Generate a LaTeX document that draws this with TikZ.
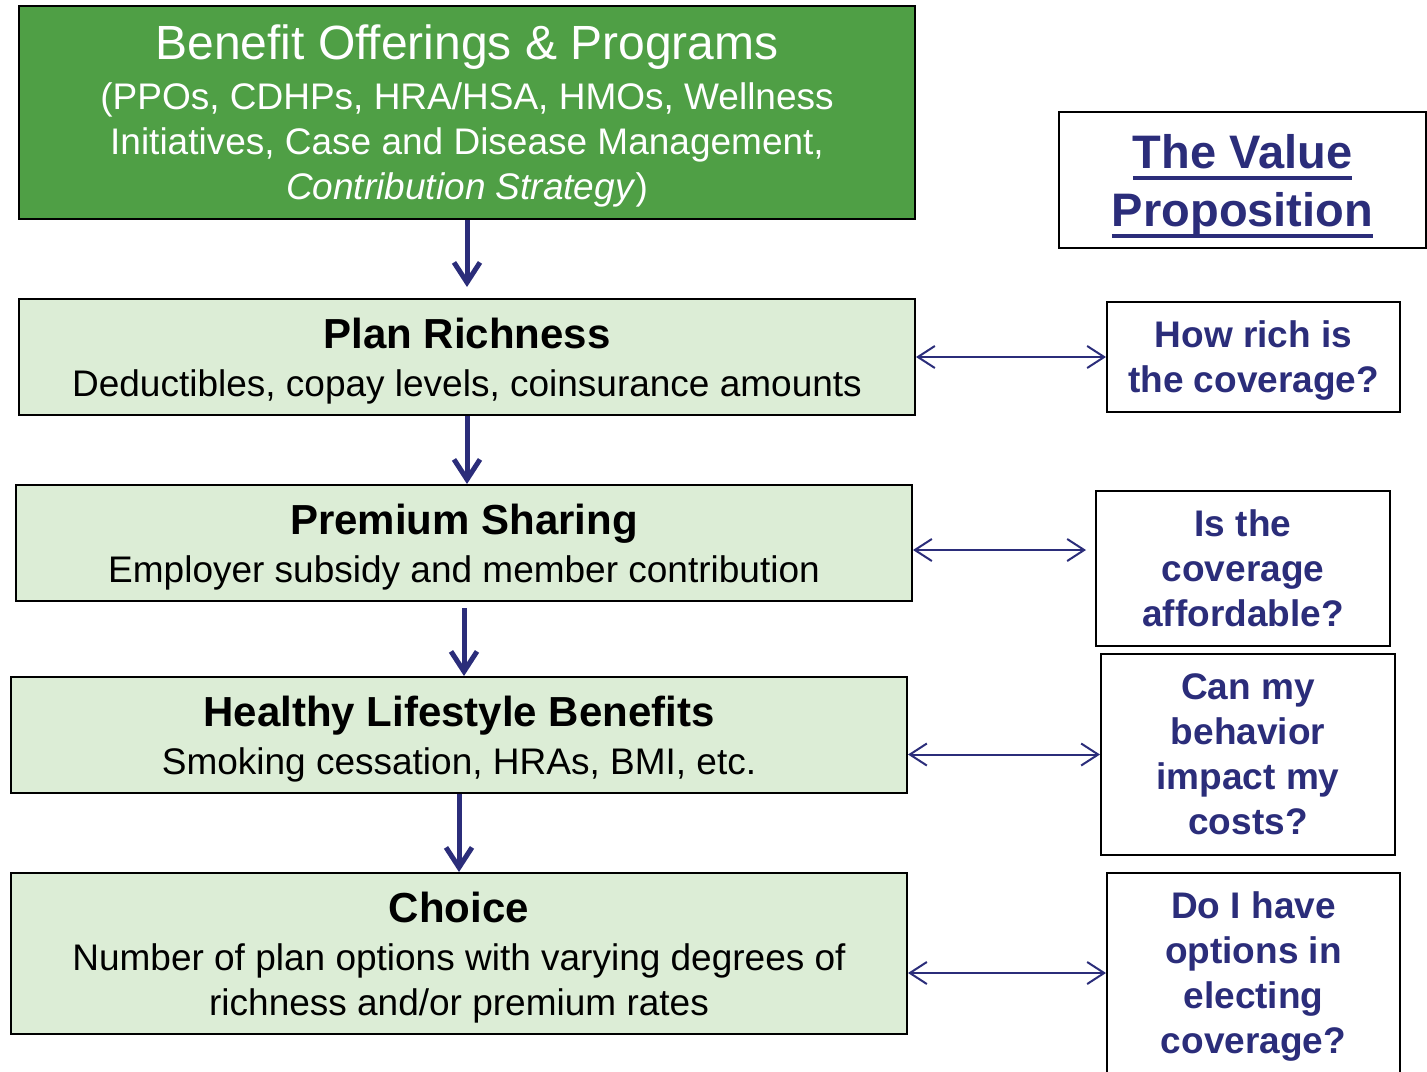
\documentclass[tikz,border=0pt]{standalone}
\usepackage{fontspec}
\setmainfont{Liberation Sans}
\usepackage{xcolor}
\usetikzlibrary{arrows.meta}

\definecolor{offergreen}{RGB}{79,159,69}
\definecolor{tiergreen}{RGB}{220,237,214}
\definecolor{asknavy}{RGB}{43,45,122}
\newcommand{\thickul}[1]{\setbox0\hbox{#1}\rlap{\rule[-12pt]{\wd0}{4pt}}\box0}
\newcommand{\tiertitle}[1]{{\fontsize{42}{48}\selectfont\bfseries #1}}
\newcommand{\nodepth}[1]{\raisebox{0pt}[\height][0pt]{#1}}

\begin{document}
\begin{tikzpicture}[x=1pt, y=-1pt]
	\useasboundingbox (0,0) rectangle (1427,1071);
	\tikzstyle{tier}=[rectangle, draw=black, line width=2pt, fill=tiergreen, minimum width=896pt, minimum height=116pt, inner sep=0pt, align=center, text=black, font=\fontsize{37}{45}\selectfont]
	\tikzstyle{ask}=[rectangle, draw=black, line width=2pt, fill=white, minimum width=293pt, inner sep=0pt, align=center, text=asknavy, font=\fontsize{37}{45}\selectfont\bfseries]
	\tikzstyle{down}=[-{Straight Barb[length=20pt, width=26pt]}, line width=5pt, draw=asknavy]
	\tikzstyle{both}=[{Straight Barb[length=17pt, width=22pt]}-{Straight Barb[length=17pt, width=22pt]}, line width=2pt, draw=asknavy]
	\node[tier, fill=offergreen, minimum height=213pt, text=white] (offer) at (467,112.5) {{\fontsize{48}{52}\selectfont Benefit Offerings \& Programs}\\[5pt]
		(PPOs, CDHPs, HRA/HSA, HMOs, Wellness\\
		Initiatives, Case and Disease Management,\\
		\nodepth{\textit{Contribution Strategy})}};
	\node[tier] (plan) at (467,357) {\tiertitle{Plan Richness}\\[3pt]
		\nodepth{Deductibles, copay levels, coinsurance amounts}};
	\node[tier] (share) at (464,543) {\tiertitle{Premium Sharing}\\[3pt]
		\nodepth{Employer subsidy and member contribution}};
	\node[tier] (health) at (459,735) {\tiertitle{Healthy Lifestyle Benefits}\\[3pt]
		\nodepth{Smoking cessation, HRAs, BMI, etc.}};
	\node[tier, minimum height=161pt] (choice) at (459,953.5) {\tiertitle{Choice}\\[3pt]
		Number of plan options with varying degrees of\\
		\nodepth{richness and/or premium rates}};
	\node[ask, minimum width=367pt, minimum height=136pt, font=\fontsize{47}{58}\selectfont\bfseries] (value) at (1242.5,180) {\thickul{The Value}\\\nodepth{\thickul{Proposition}}};
	\node[ask, minimum height=110pt] (rich) at (1253.5,357) {How rich is\\\nodepth{the coverage?}};
	\node[ask, minimum width=294pt, minimum height=155pt] (afford) at (1243,568.5) {Is the\\coverage\\affordable?};
	\node[ask, minimum width=294pt, minimum height=201pt] (behave) at (1248,754.5) {Can my\\behavior\\impact my\\costs?};
	\node[ask, minimum height=200pt] (elect) at (1253.5,973) {Do I have\\options in\\electing\\\nodepth{coverage?}};
	\coordinate (shareout) at ([yshift=-7pt]share.east);
	\path (offer) edge [down, shorten >=11pt] (plan)
	(plan.south) edge [down] (plan.south |- share.north)
	(share.south) edge [down, shorten <=6pt] (share.south |- health.north)
	(health.south) edge [down] (health.south |- choice.north)
	(plan) edge [both] (rich)
	(shareout) edge [both, shorten >=9pt] (shareout -| afford.west)
	(behave.west -| health.east) edge [both] (behave.west)
	(elect.west -| choice.east) edge [both] (elect.west);
\end{tikzpicture}
\end{document}
